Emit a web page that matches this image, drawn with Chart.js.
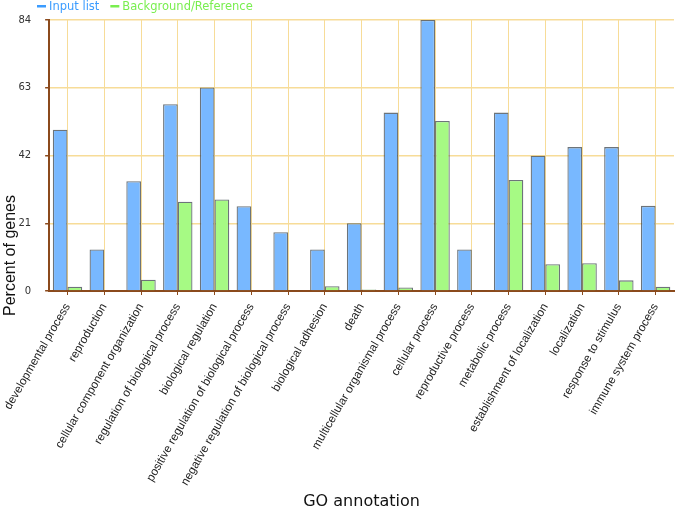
<!DOCTYPE html>
<html>
<head>
<meta charset="utf-8">
<script src="https://cdn.jsdelivr.net/npm/chart.js@4/dist/chart.umd.min.js"></script>
<style>
  html, body { margin: 0; padding: 0; background: #fff; }
  #wrap { width: 675px; height: 511px; }
</style>
</head>
<body>
<div id="wrap"><canvas id="goChart" width="675" height="511"></canvas></div>
<script>
/* ================= DATA ================= */

const categories = [
  "developmental process",
  "reproduction",
  "cellular component organization",
  "regulation of biological process",
  "biological regulation",
  "positive regulation of biological process",
  "negative regulation of biological process",
  "biological adhesion",
  "death",
  "multicellular organismal process",
  "cellular process",
  "reproductive process",
  "metabolic process",
  "establishment of localization",
  "localization",
  "response to stimulus",
  "immune system process"
];

const inputList = [50.0, 12.9, 34.0, 57.9, 63.1, 26.3, 18.2, 12.9, 21.0, 55.3, 84.0, 12.9, 55.3, 41.9, 44.6, 44.6, 26.4];
const background = [1.3, 0.2, 3.5, 27.7, 28.4, 0.2, 0.3, 1.5, 0.5, 1.1, 52.7, 0.3, 34.4, 8.3, 8.6, 3.3, 1.3];

const seriesNames = ["Input list", "Background/Reference"];
const yTicks = [0, 21, 42, 63, 84];

/* ================= STYLE ================= */

const brown = "#8b4a1c";
const gridYellow = "#f7dc98";
const blueFill = "#78b8ff";
const greenFill = "#a6fa84";
const barEdge = "rgba(60,70,78,0.75)";
const legendColors = ["#3b9cff", "#79ee4f"];

/* ================= PLUGINS ================= */

// legend + axis titles, drawn like the original applet
const decorations = {
  id: "decorations",
  afterDraw(chart) {
    const c = chart.ctx;
    c.save();

    // legend
    c.font = "11.5px 'DejaVu Sans'";
    c.textBaseline = "middle";
    let x = 37;
    seriesNames.forEach((name, i) => {
      c.fillStyle = legendColors[i];
      c.fillRect(x, 5, 9, 2.5);
      c.fillText(name, x + 12, 7);
      x += 12 + c.measureText(name).width + 11;
    });

    // y title
    c.fillStyle = "#111";
    c.font = "16px 'Liberation Sans'";
    c.textAlign = "center";
    c.save();
    c.translate(11, chart.height / 2);
    c.rotate(-Math.PI / 2);
    c.fillText("Percent of genes", 0, 0);
    c.restore();

    // x title
    c.font = "16px 'DejaVu Sans'";
    const area = chart.chartArea;
    c.fillText("GO annotation", (area.left + area.right) / 2, 502);

    c.restore();
  }
};

/* ================= CHART ================= */

const ctx = document.getElementById("goChart").getContext("2d");

new Chart(ctx, {
  type: "bar",
  data: {
    labels: categories,
    datasets: [
      {
        label: seriesNames[0],
        data: inputList,
        backgroundColor: blueFill,
        borderColor: barEdge,
        borderWidth: 1.3
      },
      {
        label: seriesNames[1],
        data: background,
        backgroundColor: greenFill,
        borderColor: barEdge,
        borderWidth: 1.3
      }
    ]
  },
  options: {
    responsive: false,
    animation: false,
    categoryPercentage: 0.8,
    barPercentage: 1.0,
    layout: { padding: { top: 14, right: 1, left: 0, bottom: 0 } },
    plugins: {
      legend: { display: false },
      tooltip: { enabled: false }
    },
    scales: {
      x: {
        grid: {
          offset: false,
          color: gridYellow,
          tickColor: brown,
          tickLength: 4,
          drawTicks: true
        },
        border: { color: brown, width: 2 },
        ticks: {
          autoSkip: false,
          maxRotation: 60,
          minRotation: 60,
          padding: 6,
          color: "#222",
          font: { family: "'Liberation Sans', Arial", size: 11.7 }
        },
        afterFit: (s) => { s.height = 220; }
      },
      y: {
        min: 0,
        max: 84,
        grid: {
          color: gridYellow,
          lineWidth: 1.5,
          tickColor: brown,
          tickLength: 4
        },
        border: { color: brown, width: 2 },
        afterBuildTicks: (s) => { s.ticks = yTicks.map(v => ({ value: v })); },
        ticks: {
          padding: 14,
          color: "#333",
          font: { family: "'DejaVu Sans'", size: 10 }
        },
        afterFit: (s) => { s.width = 48; }
      }
    }
  },
  plugins: [decorations]
});
</script>
</body>
</html>
